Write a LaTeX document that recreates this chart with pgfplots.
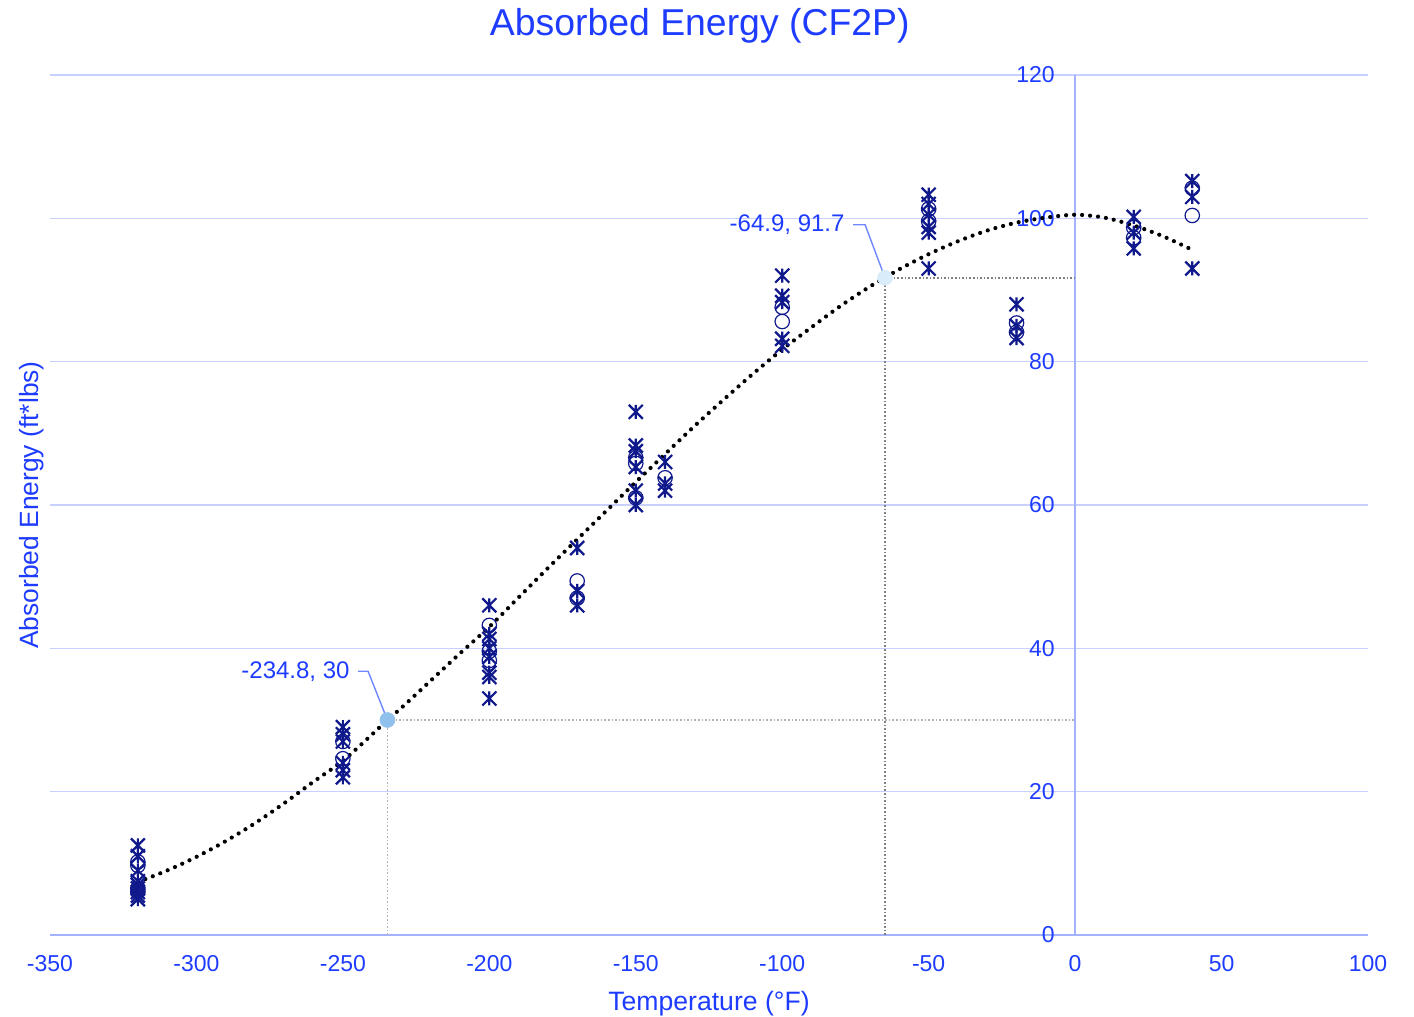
\documentclass[border=0pt]{standalone}
\usepackage{pgfplots}
\pgfplotsset{compat=1.18}
\usepackage{fontspec}
\setmainfont{Liberation Sans}
\definecolor{txtblue}{RGB}{30,60,255}
\definecolor{gridblue}{RGB}{200,208,255}
\definecolor{axblue}{RGB}{165,178,255}
\definecolor{mk}{RGB}{15,25,140}
\definecolor{lead}{RGB}{110,135,255}
\definecolor{hla}{RGB}{144,192,236}
\definecolor{hlb}{RGB}{216,236,250}
\pgfdeclareplotmark{xstar}{%
  \pgfpathmoveto{\pgfqpoint{0pt}{-\pgfplotmarksize}}%
  \pgfpathlineto{\pgfqpoint{0pt}{\pgfplotmarksize}}%
  \pgfpathmoveto{\pgfqpoint{-\pgfplotmarksize}{-\pgfplotmarksize}}%
  \pgfpathlineto{\pgfqpoint{\pgfplotmarksize}{\pgfplotmarksize}}%
  \pgfpathmoveto{\pgfqpoint{-\pgfplotmarksize}{\pgfplotmarksize}}%
  \pgfpathlineto{\pgfqpoint{\pgfplotmarksize}{-\pgfplotmarksize}}%
  \pgfusepathqstroke}
\begin{document}
\begin{tikzpicture}
\begin{axis}[
  at={(0,0)}, anchor=south west,
  scale only axis, width=659pt, height=430pt,
  xmin=-350, xmax=100, ymin=0, ymax=120,
  axis x line=bottom, axis y line=middle,
  axis line style={-, axblue, line width=0.7pt},
  hide obscured x ticks=false, hide obscured y ticks=false,
  xtick={-350,-300,...,100}, ytick={0,20,...,120},
  major tick length=0pt,
  ymajorgrids, grid style={gridblue, line width=0.6pt},
  /pgf/number format/assume math mode=true,
  tick label style={font=\fontsize{11.5}{13}\selectfont, text=txtblue},
  xticklabel style={anchor=north, inner sep=0pt, yshift=-10pt},
  yticklabel style={anchor=east, inner sep=0pt, xshift=-10pt},
  every axis title shift=0pt,
  title={Absorbed Energy (CF2P)},
  title style={at={(axis description cs:0.493,1.057)}, anchor=center, font=\fontsize{18.7}{22}\selectfont, text=txtblue},
  xlabel={Temperature (°F)},
  xlabel style={at={(axis description cs:0.5,-0.0795)}, anchor=center, font=\fontsize{13.3}{15}\selectfont, text=txtblue},
  ylabel={Absorbed Energy (ft*lbs)},
  ylabel style={at={(axis description cs:-0.0137,0.5)}, anchor=center, rotate=90, font=\fontsize{13.2}{15}\selectfont, text=txtblue},
  clip=false,
]
% drop lines
\addplot[color=black!30, dash pattern=on 0.8pt off 1pt, line width=0.8pt] coordinates {(-234.8,0) (-234.8,30) (0,30)};
\addplot[color=black!50, dash pattern=on 0.8pt off 1pt, line width=0.8pt] coordinates {(-64.9,0) (-64.9,91.7) (0,91.7)};
% leader lines and labels
\draw[lead, line width=0.7pt] (axis cs:-244.8,36.8) -- (axis cs:-241.4,36.8) -- (axis cs:-234.8,30);
\node[anchor=east, inner sep=0pt, text=txtblue, font=\fontsize{12}{14}\selectfont] at (axis cs:-247.6,36.8) {-234.8, 30};
\draw[lead, line width=0.7pt] (axis cs:-75.8,99.1) -- (axis cs:-71.7,99.1) -- (axis cs:-64.9,91.7);
\node[anchor=east, inner sep=0pt, text=txtblue, font=\fontsize{12}{14}\selectfont] at (axis cs:-78.6,99.1) {-64.9, 91.7};
% highlight points
\addplot[only marks, mark=*, mark size=3.7pt, color=hla] coordinates {(-234.8,30)};
\addplot[only marks, mark=*, mark size=3.7pt, color=hlb] coordinates {(-64.9,91.7)};
% asterisk data
\addplot[only marks, mark=xstar, mark size=3.5pt, mark options={draw=mk, line width=1.1pt}] coordinates {
(-320,12.5) (-320,11) (-320,9) (-320,7.5) (-320,7) (-320,6.5) (-320,6) (-320,5.5) (-320,5)
(-250,29) (-250,28) (-250,27) (-250,24) (-250,23) (-250,22)
(-200,46) (-200,42) (-200,41.3) (-200,40) (-200,38.8) (-200,36.6) (-200,36) (-200,33)
(-170,54) (-170,48) (-170,46)
(-150,73) (-150,68.3) (-150,67.5) (-150,65.3) (-150,62) (-150,60)
(-140,66) (-140,63) (-140,62)
(-100,92) (-100,89.2) (-100,88.3) (-100,83.2) (-100,82.2)
(-50,103.3) (-50,102) (-50,100.5) (-50,98.8) (-50,98) (-50,93)
(-20,88) (-20,85) (-20,83.3)
(20,100.2) (20,98) (20,95.8)
(40,105.2) (40,103) (40,93)
};
% circle data
\addplot[only marks, mark=o, mark size=3.6pt, mark options={draw=mk, line width=0.6pt}] coordinates {
(-320,10.2) (-320,9.7) (-320,6.5) (-320,6)
(-250,27) (-250,24.6)
(-200,43.2) (-200,39.6) (-200,38.3)
(-170,49.4) (-170,47)
(-150,66.6) (-150,65.8) (-150,61)
(-140,63.8)
(-100,87.6) (-100,85.6)
(-50,101.3) (-50,99.6)
(-20,85.4) (-20,84.1)
(20,98.7) (20,97.3)
(40,104.2) (40,100.4)
};
% fitted curve
\addplot[black, line width=2.1pt, dash pattern=on 0pt off 4pt, line cap=round, smooth] coordinates {
(-320,7.4) (-310,9.0) (-300,10.9) (-290,13.1) (-280,15.6) (-270,18.4) (-260,21.4) (-250,24.3) (-240,28.0) (-234.8,30) (-230,31.7) (-220,35.5) (-210,39.3) (-200,43.0) (-190,47.1) (-180,51.2) (-170,55.2) (-160,59.2) (-150,63.2) (-140,67.1) (-130,71.0) (-120,74.7) (-110,78.3) (-100,81.7) (-90,84.8) (-80,87.8) (-70,90.5) (-64.9,91.7) (-60,92.9) (-50,95.0) (-40,96.8) (-30,98.3) (-20,99.4) (-10,100.1) (0,100.5) (10,100.1) (20,99.0) (30,97.5) (40,95.6)
};
\end{axis}
\pgfresetboundingbox
\useasboundingbox (-25pt,-41pt) rectangle (682pt,467.5pt);
\end{tikzpicture}
\end{document}
